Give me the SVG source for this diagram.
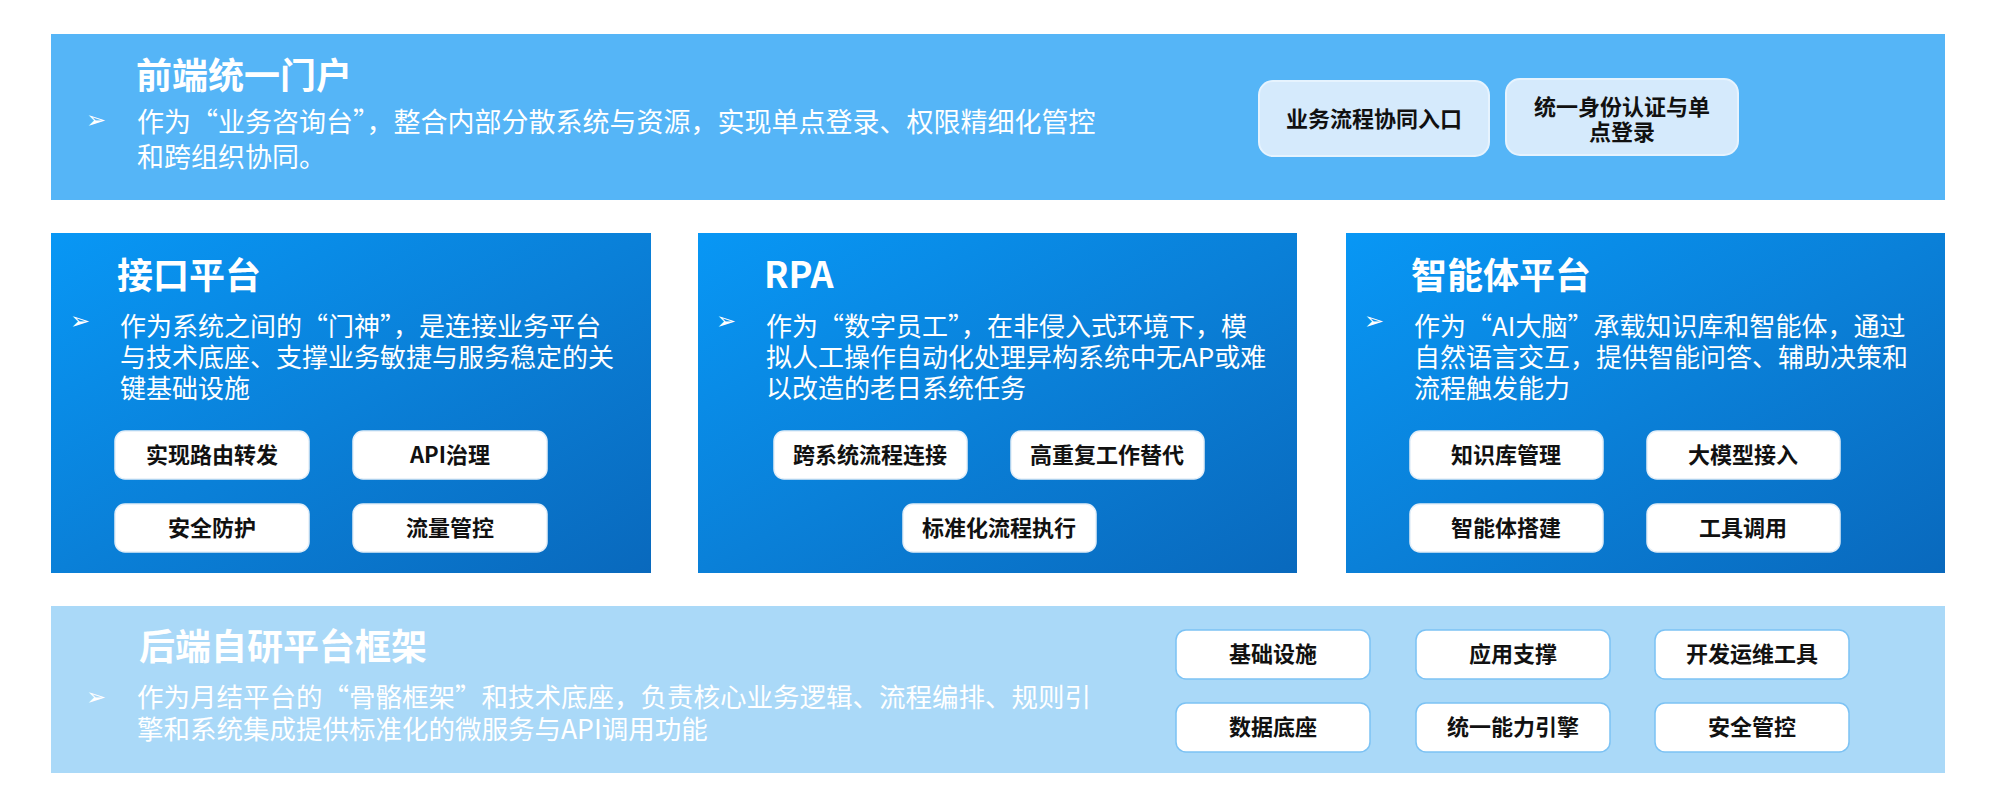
<svg xmlns="http://www.w3.org/2000/svg" width="2000" height="808" viewBox="0 0 2000 808">
<defs>
<linearGradient id="panelGrad" x1="0" y1="0" x2="1" y2="1">
<stop offset="0" stop-color="#0897f5"/>
<stop offset="0.5" stop-color="#0a80d8"/>
<stop offset="1" stop-color="#0969bd"/>
</linearGradient>
<style>
text{font-family:"Noto Sans CJK SC","Noto Sans",sans-serif;}
.title{fill:#ffffff;font-weight:700;font-size:36px;}
.body{fill:#ffffff;font-size:26px;}
.bullet{fill:#ffffff;font-family:"DejaVu Sans",sans-serif;font-size:24px;font-weight:700;}
.btn{fill:#ffffff;stroke:#e3eef8;stroke-width:1.5;}
.btn2{fill:#ffffff;stroke:#7cc2f4;stroke-width:1.5;}
.topbox{fill:#d5eafc;stroke:#e6f3fe;stroke-width:2;}
.lbl{fill:#111111;font-weight:700;font-size:22px;text-anchor:middle;}
</style>
</defs>
<rect x="0" y="0" width="2000" height="808" fill="#ffffff"/>

<g id="front-portal">
<rect x="51" y="34" width="1894" height="166" fill="#55b5f7"/>
<text class="title" x="136" y="89">前端统一门户</text>
<text class="bullet" x="86" y="128">➢</text>
<text class="body" x="137" y="132" style="font-size:27px">作为“业务咨询台”，整合内部分散系统与资源，实现单点登录、权限精细化管控</text>
<text class="body" x="137" y="167" style="font-size:27px">和跨组织协同。</text>
<g id="portal-entry">
<rect class="topbox" x="1259" y="81" width="230" height="75" rx="14"/>
<text class="lbl" x="1374" y="127">业务流程协同入口</text>
</g>
<g id="portal-sso">
<rect class="topbox" x="1506" y="79" width="232" height="76" rx="14"/>
<text class="lbl" x="1622" y="115">统一身份认证与单</text>
<text class="lbl" x="1622" y="140">点登录</text>
</g>
</g>

<g id="api-platform">
<rect x="51" y="233" width="600" height="340" fill="url(#panelGrad)"/>
<text class="title" x="117" y="289">接口平台</text>
<text class="bullet" x="70" y="329">➢</text>
<text class="body" x="120" y="336">作为系统之间的“门神”，是连接业务平台</text>
<text class="body" x="120" y="367">与技术底座、支撑业务敏捷与服务稳定的关</text>
<text class="body" x="120" y="398">键基础设施</text>
<g id="api-routing"><rect class="btn" x="115" y="431" width="194" height="48" rx="10"/><text class="lbl" x="212" y="463">实现路由转发</text></g>
<g id="api-governance"><rect class="btn" x="353" y="431" width="194" height="48" rx="10"/><text class="lbl" x="450" y="463">API治理</text></g>
<g id="api-security"><rect class="btn" x="115" y="504" width="194" height="48" rx="10"/><text class="lbl" x="212" y="536">安全防护</text></g>
<g id="api-traffic"><rect class="btn" x="353" y="504" width="194" height="48" rx="10"/><text class="lbl" x="450" y="536">流量管控</text></g>
</g>

<g id="rpa">
<rect x="698" y="233" width="599" height="340" fill="url(#panelGrad)"/>
<text class="title" x="764" y="288">RPA</text>
<text class="bullet" x="716" y="329">➢</text>
<text class="body" x="766" y="336">作为“数字员工”，在非侵入式环境下，模</text>
<text class="body" x="766" y="367">拟人工操作自动化处理异构系统中无AP或难</text>
<text class="body" x="766" y="398">以改造的老日系统任务</text>
<g id="rpa-cross"><rect class="btn" x="774" y="431" width="193" height="48" rx="10"/><text class="lbl" x="870" y="463">跨系统流程连接</text></g>
<g id="rpa-repeat"><rect class="btn" x="1011" y="431" width="193" height="48" rx="10"/><text class="lbl" x="1107" y="463">高重复工作替代</text></g>
<g id="rpa-standard"><rect class="btn" x="903" y="504" width="193" height="48" rx="10"/><text class="lbl" x="999" y="536">标准化流程执行</text></g>
</g>

<g id="agent-platform">
<rect x="1346" y="233" width="599" height="340" fill="url(#panelGrad)"/>
<text class="title" x="1411" y="289">智能体平台</text>
<text class="bullet" x="1364" y="329">➢</text>
<text class="body" x="1414" y="336">作为“AI大脑”承载知识库和智能体，通过</text>
<text class="body" x="1414" y="367">自然语言交互，提供智能问答、辅助决策和</text>
<text class="body" x="1414" y="398">流程触发能力</text>
<g id="agent-kb"><rect class="btn" x="1410" y="431" width="193" height="48" rx="10"/><text class="lbl" x="1506" y="463">知识库管理</text></g>
<g id="agent-llm"><rect class="btn" x="1647" y="431" width="193" height="48" rx="10"/><text class="lbl" x="1743" y="463">大模型接入</text></g>
<g id="agent-build"><rect class="btn" x="1410" y="504" width="193" height="48" rx="10"/><text class="lbl" x="1506" y="536">智能体搭建</text></g>
<g id="agent-tools"><rect class="btn" x="1647" y="504" width="193" height="48" rx="10"/><text class="lbl" x="1743" y="536">工具调用</text></g>
</g>

<g id="backend-framework">
<rect x="51" y="606" width="1894" height="167" fill="#aad9f8"/>
<text class="title" x="139" y="660">后端自研平台框架</text>
<text class="bullet" x="86" y="705">➢</text>
<text class="body" x="137" y="707" style="font-size:26.5px">作为月结平台的“骨骼框架”和技术底座，负责核心业务逻辑、流程编排、规则引</text>
<text class="body" x="137" y="739" style="font-size:26.5px">擎和系统集成提供标准化的微服务与API调用功能</text>
<g id="be-infra"><rect class="btn2" x="1176" y="630" width="194" height="49" rx="10"/><text class="lbl" x="1273" y="662">基础设施</text></g>
<g id="be-app"><rect class="btn2" x="1416" y="630" width="194" height="49" rx="10"/><text class="lbl" x="1513" y="662">应用支撑</text></g>
<g id="be-devops"><rect class="btn2" x="1655" y="630" width="194" height="49" rx="10"/><text class="lbl" x="1752" y="662">开发运维工具</text></g>
<g id="be-data"><rect class="btn2" x="1176" y="703" width="194" height="49" rx="10"/><text class="lbl" x="1273" y="735">数据底座</text></g>
<g id="be-engine"><rect class="btn2" x="1416" y="703" width="194" height="49" rx="10"/><text class="lbl" x="1513" y="735">统一能力引擎</text></g>
<g id="be-security"><rect class="btn2" x="1655" y="703" width="194" height="49" rx="10"/><text class="lbl" x="1752" y="735">安全管控</text></g>
</g>

<g id="connectors"></g>
</svg>
